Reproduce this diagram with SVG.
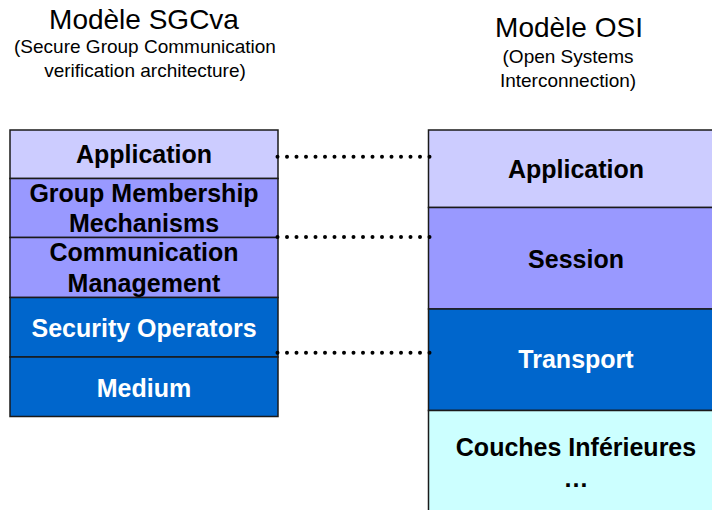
<svg xmlns="http://www.w3.org/2000/svg" width="712" height="510" viewBox="0 0 712 510">
  <style>
    .title { font-family: "Liberation Sans", Arial, sans-serif; font-size: 28px; fill: #000; text-anchor: middle; }
    .sub { font-family: "Liberation Sans", Arial, sans-serif; font-size: 19px; fill: #000; text-anchor: middle; }
    .lbl { font-family: "Liberation Sans", Arial, sans-serif; font-size: 25px; font-weight: bold; text-anchor: middle; }
    .dark { fill: #000; }
    .light { fill: #fff; }
    .layer { stroke: #1a1a1a; stroke-width: 1.5; }
    .l1 { fill: #CCCCFF; }
    .l2 { fill: #9999FF; }
    .l3 { fill: #0066CC; }
    .l4 { fill: #CCFFFF; }
    .dots { stroke: #000; stroke-width: 4; stroke-linecap: round; stroke-dasharray: 0 9.5; fill: none; }
  </style>

  <!-- Column headings -->
  <g id="heading-sgcva">
    <text class="title" x="144" y="29">Modèle SGCva</text>
    <text class="sub" x="145" y="53">(Secure Group Communication</text>
    <text class="sub" x="145" y="77">verification architecture)</text>
  </g>
  <g id="heading-osi">
    <text class="title" x="569" y="37">Modèle OSI</text>
    <text class="sub" x="568" y="63">(Open Systems</text>
    <text class="sub" x="568" y="87">Interconnection)</text>
  </g>

  <!-- SGCva stack -->
  <g id="sgc-application">
    <rect class="layer l1" x="10" y="130" width="268" height="48.5"/>
    <text class="lbl dark" x="144" y="163">Application</text>
  </g>
  <g id="sgc-group-membership">
    <rect class="layer l2" x="10" y="178.5" width="268" height="59"/>
    <text class="lbl dark" x="144" y="202">Group Membership</text>
    <text class="lbl dark" x="144" y="232">Mechanisms</text>
  </g>
  <g id="sgc-communication">
    <rect class="layer l2" x="10" y="237.5" width="268" height="60"/>
    <text class="lbl dark" x="144" y="261">Communication</text>
    <text class="lbl dark" x="144" y="292">Management</text>
  </g>
  <g id="sgc-security">
    <rect class="layer l3" x="10" y="297.5" width="268" height="59.5"/>
    <text class="lbl light" x="144" y="337">Security Operators</text>
  </g>
  <g id="sgc-medium">
    <rect class="layer l3" x="10" y="357" width="268" height="59.5"/>
    <text class="lbl light" x="144" y="397">Medium</text>
  </g>

  <!-- OSI stack -->
  <g id="osi-application">
    <rect class="layer l1" x="428.5" y="130" width="300" height="77.5"/>
    <text class="lbl dark" x="576" y="178">Application</text>
  </g>
  <g id="osi-session">
    <rect class="layer l2" x="428.5" y="207.5" width="300" height="101.5"/>
    <text class="lbl dark" x="576" y="268">Session</text>
  </g>
  <g id="osi-transport">
    <rect class="layer l3" x="428.5" y="309" width="300" height="101.5"/>
    <text class="lbl light" x="576" y="368">Transport</text>
  </g>
  <g id="osi-lower">
    <rect class="layer l4" x="428.5" y="410.5" width="300" height="110"/>
    <text class="lbl dark" x="576" y="456">Couches Inférieures</text>
    <text class="lbl dark" x="576" y="487">…</text>
  </g>

  <!-- Layer correspondences -->
  <g id="connectors">
    <line class="dots" x1="277.5" y1="156.7" x2="430.5" y2="156.7"/>
    <line class="dots" x1="277.5" y1="237" x2="430.5" y2="237"/>
    <line class="dots" x1="277.5" y1="352.7" x2="430.5" y2="352.7"/>
  </g>
</svg>
